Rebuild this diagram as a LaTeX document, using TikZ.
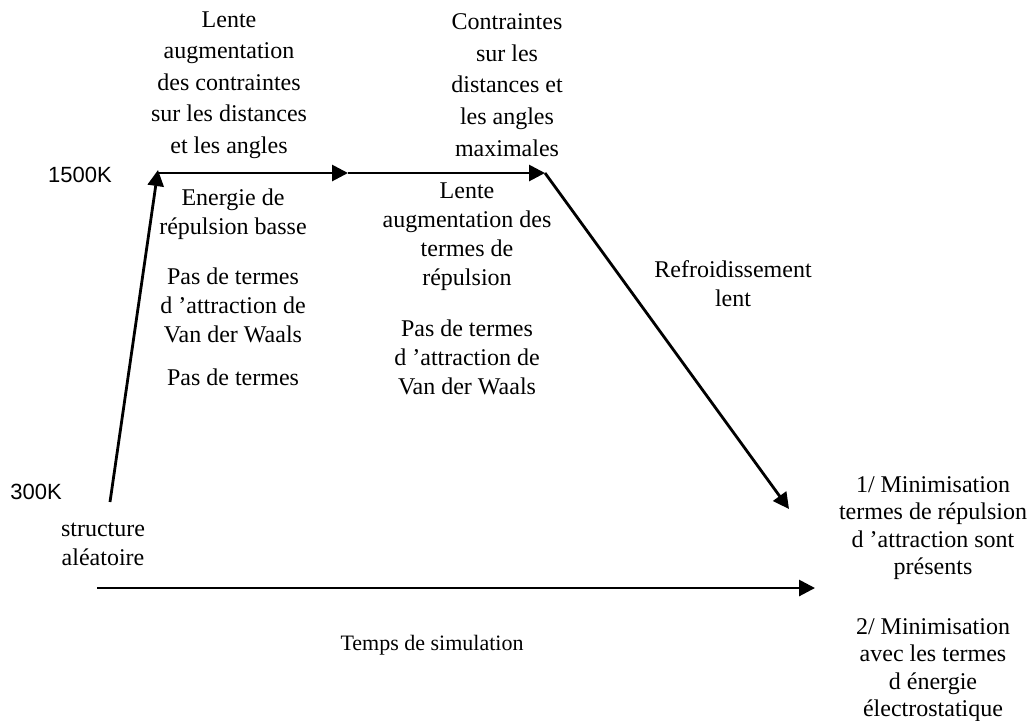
\documentclass[tikz,border=0pt]{standalone}
\usepackage{fontspec}
\setmainfont{Liberation Serif}
\newfontfamily\arialfont{Liberation Sans}
\usetikzlibrary{arrows.meta}

\begin{document}
\begin{tikzpicture}[x=0.5pt, y=-0.5pt,
          txt/.style={align=center, inner sep=0pt, font=\fontsize{12}{14.5}\selectfont},
          toptxt/.style={align=center, inner sep=0pt, font=\fontsize{12}{15.8}\selectfont},
          rtxt/.style={align=center, inner sep=0pt, font=\fontsize{12}{13.6}\selectfont},
          temp/.style={inner sep=0pt, font=\arialfont\fontsize{11}{13}\selectfont},
          arr/.style={-{Triangle[length=8pt, width=8pt]}, line width=1.4pt}
        ]
        \useasboundingbox (0,0) rectangle (1031,720);

        % Corner points of the temperature profile
        \coordinate (start) at (110,502);
        \coordinate (heat)  at (158,173);
        \coordinate (hold)  at (348,173);
        \coordinate (cool)  at (545,173);
        \coordinate (stop)  at (789,509);
        \coordinate (t0)    at (97,588);
        \coordinate (t1)    at (815,588);

        % Temperatures
        \node[temp] (k1500) at (80,175) {1500K};
        \node[temp] (k300)  at (36,492) {300K};

        % Profile
        \draw[arr] (start) -- ([yshift=1.5pt]heat);
        \draw[arr] (heat) -- (hold);
        \draw[arr] (hold) -- (cool);
        \draw[arr] (cool) -- (stop);

        % Time axis
        \draw[arr] (t0) -- (t1);
        \node[font=\fontsize{11}{13}\selectfont, inner sep=0pt]
              (temps) at (432,645) {Temps de simulation};

        % Top labels
        \node[toptxt] (phase1) at (229,85)
              {Lente\\augmentation\\des contraintes\\sur les distances\\et les angles};
        \node[toptxt] (phase2) at (507,85)
              {Contraintes\\sur les\\distances et\\les angles\\maximales};

        % Below the first plateau
        \node[txt] (rep1) at (233,214) {Energie de\\répulsion basse};
        \node[txt] (vdw1) at (233,305) {Pas de termes\\d 'attraction de\\Van der Waals};
        \node[txt] (elec1) at (233,377) {Pas de termes};

        % Below the second plateau
        \node[txt] (rep2) at (467,237)
              {Lente\\augmentation des\\termes de\\répulsion};
        \node[txt] (vdw2) at (467,357) {Pas de termes\\d 'attraction de\\Van der Waals};

        % Cooling
        \node[txt] (refr) at (733,284) {Refroidissement\\lent};

        % Start and end
        \node[txt] (alea) at (103,544) {structure\\aléatoire};
        \node[rtxt] (min1) at (933,528)
              {1/ Minimisation\\termes de répulsion\\d 'attraction sont\\présents};
        \node[rtxt] (min2) at (933,670)
              {2/ Minimisation\\avec les termes\\d énergie\\électrostatique};
      \end{tikzpicture}
\end{document}
